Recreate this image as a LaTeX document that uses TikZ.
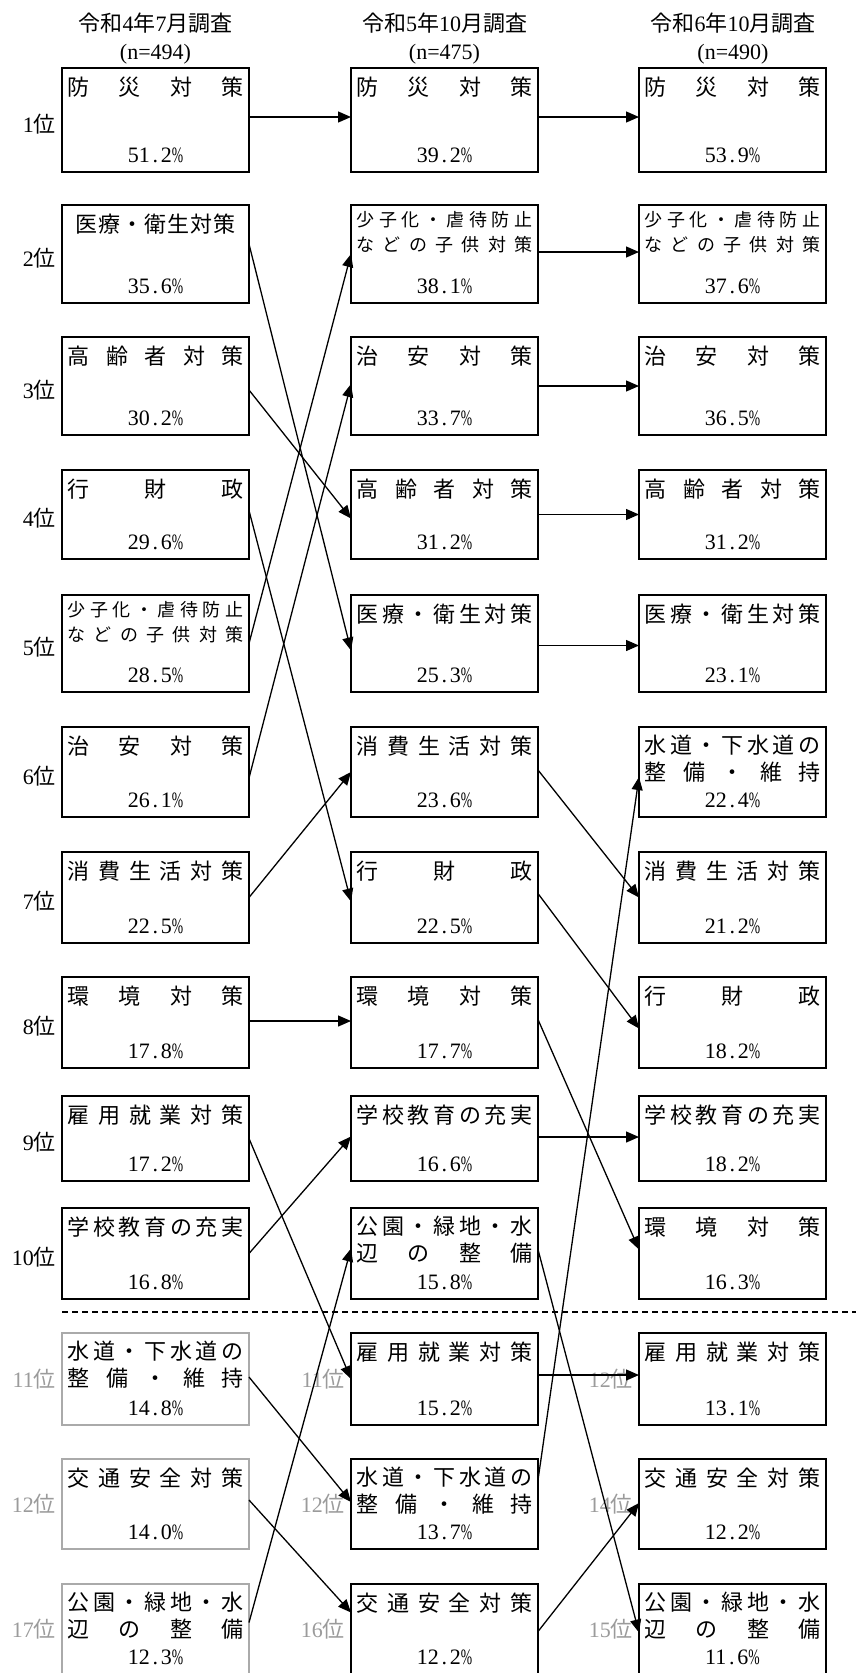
\documentclass[tikz,border=0pt]{standalone}
\usepackage{fontspec}
\usepackage{graphicx}
\setmainfont{Liberation Serif}
\newfontfamily\jp{Noto Sans CJK JP}
\usetikzlibrary{arrows.meta}
\definecolor{lbgray}{RGB}{155,155,155}
\definecolor{bxgray}{RGB}{170,170,170}
\def\spreadaux#1{\ifx#1\relax\else#1\expandafter\spreadnext\fi}
\def\spreadnext#1{\ifx#1\relax\else\hfill#1\expandafter\spreadnext\fi}
\newcommand\sprw[2]{\makebox[#1][s]{\spreadaux#2\relax}}
\newcommand\spr[1]{\sprw{176pt}{#1}}
\newcommand\pc[2]{#1\makebox[0.5em]{.}#2\scalebox{0.62}[1]{\%}}
\newcommand\BX[5]{\node[#5,minimum height=#4pt] (#1) at (#2,#3) {};}
\newcommand\ONE[2]{\node[jt] (#1t) at ([yshift=-19pt]#1.north) {\spr{#2}};}
\newcommand\TWO[3]{\node[jt] (#1t) at ([yshift=-18pt]#1.north) {\spr{#2}};
  \node[jt] (#1u) at ([yshift=-45pt]#1.north) {\spr{#3}};}
\newcommand\SML[3]{\node[js] (#1t) at ([yshift=-15pt]#1.north) {\spr{#2}};
  \node[js] (#1u) at ([yshift=-40pt]#1.north) {\spr{#3}};}
\newcommand\PC[3]{\node[pcs] (#1p) at ([yshift=17pt]#1.south) {\pc{#2}{#3}};}
\newcommand\RK[4]{\node[#3] (#1r) at ([xshift=-6pt,yshift=#4pt]#1.west) {#2};}
\newcommand\CN[4]{\draw[arr] ([yshift=#3pt]#1.east) -- ([yshift=#4pt]#2.west);}
\begin{document}
\begin{tikzpicture}[x=1pt,y=-1pt,
  box/.style={draw=black,line width=2pt,minimum width=187pt,inner sep=0pt,outer sep=0pt,anchor=north west},
  gbox/.style={box,draw=bxgray,line width=1.4pt},
  jt/.style={inner sep=0pt,font=\jp\fontsize{22}{22}\selectfont},
  js/.style={inner sep=0pt,font=\jp\fontsize{18}{18}\selectfont},
  pcs/.style={inner sep=0pt,font=\fontsize{22}{22}\selectfont},
  rk/.style={inner sep=0pt,anchor=east,font=\fontsize{22}{22}\selectfont},
  grk/.style={rk,text=lbgray},
  arr/.style={line width=1.3pt,-{Triangle[length=13pt,width=11pt]}},
  hd/.style={inner sep=0pt,font=\fontsize{22}{22}\selectfont},
  dsh/.style={line width=1.2pt,dash pattern=on 6pt off 4pt}
]
\fill[white] (0,0) rectangle (856,1673);
\useasboundingbox (0,0) rectangle (856,1673);

% headers
\node[hd] (h1) at (155.5,23) {{\jp 令和}4{\jp 年}7{\jp 月調査}};
\node[hd] (n1) at (155.5,54) {(n=494)};
\node[hd] (h2) at (444.5,23) {{\jp 令和}5{\jp 年}10{\jp 月調査}};
\node[hd] (n2) at (444.5,54) {(n=475)};
\node[hd] (h3) at (733,23) {{\jp 令和}6{\jp 年}10{\jp 月調査}};
\node[hd] (n3) at (733,54) {(n=490)};

% column 1
\BX{a1}{62}{68}{104}{box}   \ONE{a1}{防災対策} \PC{a1}{51}{2}
\BX{a2}{62}{205}{98}{box}   \node[jt] (a2t) at ([yshift=-19pt]a2.north) {\sprw{160pt}{医療・衛生対策}}; \PC{a2}{35}{6}
\BX{a3}{62}{337}{98}{box}   \ONE{a3}{高齢者対策} \PC{a3}{30}{2}
\BX{a4}{62}{470}{89}{box}   \ONE{a4}{行財政} \PC{a4}{29}{6}
\BX{a5}{62}{595}{97}{box}   \SML{a5}{少子化・虐待防止}{などの子供対策} \PC{a5}{28}{5}
\BX{a6}{62}{727}{90}{box}   \ONE{a6}{治安対策} \PC{a6}{26}{1}
\BX{a7}{62}{852}{91}{box}   \ONE{a7}{消費生活対策} \PC{a7}{22}{5}
\BX{a8}{62}{977}{91}{box}   \ONE{a8}{環境対策} \PC{a8}{17}{8}
\BX{a9}{62}{1096}{85}{box}  \ONE{a9}{雇用就業対策} \PC{a9}{17}{2}
\BX{a10}{62}{1208}{91}{box} \ONE{a10}{学校教育の充実} \PC{a10}{16}{8}
\BX{a11}{62}{1333}{92}{gbox} \TWO{a11}{水道・下水道の}{整備・維持} \PC{a11}{14}{8}
\BX{a12}{62}{1459}{90}{gbox} \ONE{a12}{交通安全対策} \PC{a12}{14}{0}
\BX{a13}{62}{1584}{91}{gbox} \TWO{a13}{公園・緑地・水}{辺の整備} \node[pcs] (a13p) at ([yshift=-73pt]a13.north) {\pc{12}{3}};

% column 2
\BX{b1}{351}{68}{104}{box}   \ONE{b1}{防災対策} \PC{b1}{39}{2}
\BX{b2}{351}{205}{98}{box}   \SML{b2}{少子化・虐待防止}{などの子供対策} \PC{b2}{38}{1}
\BX{b3}{351}{337}{98}{box}   \ONE{b3}{治安対策} \PC{b3}{33}{7}
\BX{b4}{351}{470}{89}{box}   \ONE{b4}{高齢者対策} \PC{b4}{31}{2}
\BX{b5}{351}{595}{97}{box}   \ONE{b5}{医療・衛生対策} \PC{b5}{25}{3}
\BX{b6}{351}{727}{90}{box}   \ONE{b6}{消費生活対策} \PC{b6}{23}{6}
\BX{b7}{351}{852}{91}{box}   \ONE{b7}{行財政} \PC{b7}{22}{5}
\BX{b8}{351}{977}{91}{box}   \ONE{b8}{環境対策} \PC{b8}{17}{7}
\BX{b9}{351}{1096}{85}{box}  \ONE{b9}{学校教育の充実} \PC{b9}{16}{6}
\BX{b10}{351}{1208}{91}{box} \TWO{b10}{公園・緑地・水}{辺の整備} \PC{b10}{15}{8}
\BX{b11}{351}{1333}{92}{box} \ONE{b11}{雇用就業対策} \PC{b11}{15}{2}
\BX{b12}{351}{1459}{90}{box} \TWO{b12}{水道・下水道の}{整備・維持} \PC{b12}{13}{7}
\BX{b13}{351}{1584}{91}{box} \ONE{b13}{交通安全対策} \node[pcs] (b13p) at ([yshift=-73pt]b13.north) {\pc{12}{2}};

% column 3
\BX{c1}{639}{68}{104}{box}   \ONE{c1}{防災対策} \PC{c1}{53}{9}
\BX{c2}{639}{205}{98}{box}   \SML{c2}{少子化・虐待防止}{などの子供対策} \PC{c2}{37}{6}
\BX{c3}{639}{337}{98}{box}   \ONE{c3}{治安対策} \PC{c3}{36}{5}
\BX{c4}{639}{470}{89}{box}   \ONE{c4}{高齢者対策} \PC{c4}{31}{2}
\BX{c5}{639}{595}{97}{box}   \ONE{c5}{医療・衛生対策} \PC{c5}{23}{1}
\BX{c6}{639}{727}{90}{box}   \TWO{c6}{水道・下水道の}{整備・維持} \PC{c6}{22}{4}
\BX{c7}{639}{852}{91}{box}   \ONE{c7}{消費生活対策} \PC{c7}{21}{2}
\BX{c8}{639}{977}{91}{box}   \ONE{c8}{行財政} \PC{c8}{18}{2}
\BX{c9}{639}{1096}{85}{box}  \ONE{c9}{学校教育の充実} \PC{c9}{18}{2}
\BX{c10}{639}{1208}{91}{box} \ONE{c10}{環境対策} \PC{c10}{16}{3}
\BX{c11}{639}{1333}{92}{box} \ONE{c11}{雇用就業対策} \PC{c11}{13}{1}
\BX{c12}{639}{1459}{90}{box} \ONE{c12}{交通安全対策} \PC{c12}{12}{2}
\BX{c13}{639}{1584}{91}{box} \TWO{c13}{公園・緑地・水}{辺の整備} \node[pcs] (c13p) at ([yshift=-73pt]c13.north) {\pc{11}{6}};

% rank labels
\RK{a1}{1{\jp 位}}{rk}{-4}
\RK{a2}{2{\jp 位}}{rk}{-4}
\RK{a3}{3{\jp 位}}{rk}{-4}
\RK{a4}{4{\jp 位}}{rk}{-4}
\RK{a5}{5{\jp 位}}{rk}{-4}
\RK{a6}{6{\jp 位}}{rk}{-4}
\RK{a7}{7{\jp 位}}{rk}{-4}
\RK{a8}{8{\jp 位}}{rk}{-4}
\RK{a9}{9{\jp 位}}{rk}{-4}
\RK{a10}{10{\jp 位}}{rk}{-4}
\RK{a11}{11{\jp 位}}{grk}{0}
\RK{a12}{12{\jp 位}}{grk}{0}
\RK{a13}{17{\jp 位}}{grk}{0}
\RK{b11}{11{\jp 位}}{grk}{0}
\RK{b12}{12{\jp 位}}{grk}{0}
\RK{b13}{16{\jp 位}}{grk}{0}
\RK{c11}{12{\jp 位}}{grk}{0}
\RK{c12}{14{\jp 位}}{grk}{0}
\RK{c13}{15{\jp 位}}{grk}{0}

% dashed separator
\coordinate (dl) at (62,1312);
\coordinate (dr) at (856,1312);
\draw[dsh] (dl) -- (dr);

% connectors col1 -> col2
\CN{a1}{b1}{3}{3}
\CN{a2}{b5}{10}{-7}
\CN{a3}{b4}{-4}{-4}
\CN{a4}{b7}{4}{-4}
\CN{a5}{b2}{0}{0}
\CN{a6}{b3}{-6}{2}
\CN{a7}{b6}{0}{0}
\CN{a8}{b8}{1.5}{1.5}
\CN{a9}{b11}{0}{0}
\CN{a10}{b9}{0}{2}
\CN{a11}{b12}{2}{2}
\CN{a12}{b13}{4}{17}
\CN{a13}{b10}{7}{5}

% connectors col2 -> col3
\CN{b1}{c1}{3}{3}
\CN{b2}{c2}{2}{2}
\CN{b3}{c3}{0}{0}
\CN{b4}{c4}{0}{0}
\CN{b5}{c5}{-2}{-2}
\CN{b6}{c7}{2}{0}
\CN{b7}{c8}{4}{-6}
\CN{b8}{c10}{3}{4}
\CN{b9}{c9}{1.5}{1.5}
\CN{b10}{c13}{4}{-3}
\CN{b11}{c11}{4}{4}
\CN{b12}{c6}{24}{-5}
\CN{b13}{c12}{-2}{1}
\end{tikzpicture}
\end{document}
